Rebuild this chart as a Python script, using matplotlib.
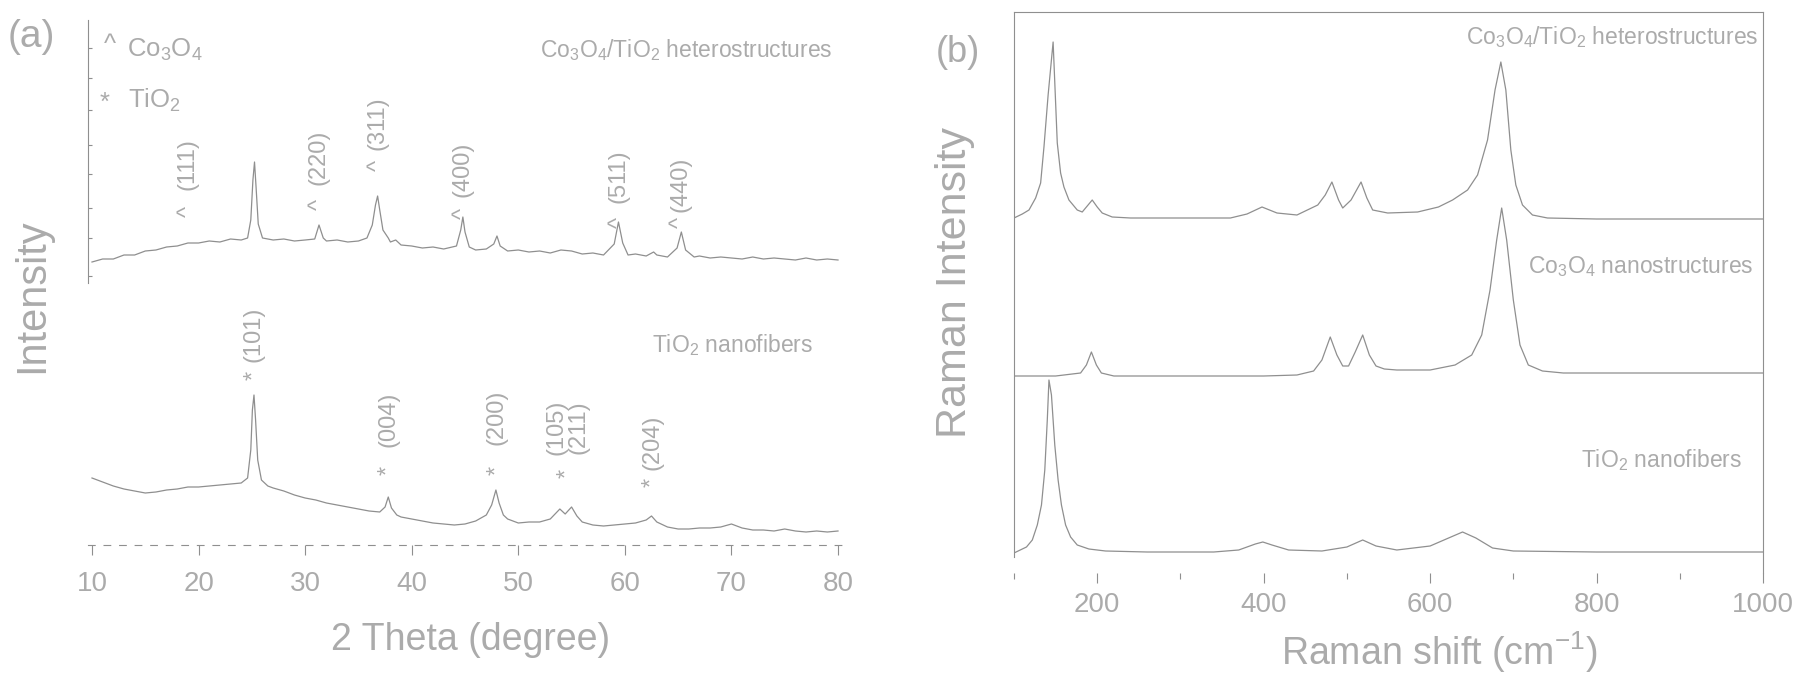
#!/usr/bin/env python3
"""
XRD (a) and Raman (b) patterns of Co3O4/TiO2 heterostructures
"""
import matplotlib
matplotlib.use('Agg')
import matplotlib.pyplot as plt

plt.rcParams['font.family'] = ['Liberation Sans', 'DejaVu Sans']
plt.rcParams['mathtext.fontset'] = 'custom'
plt.rcParams['mathtext.rm'] = 'Liberation Sans'
plt.rcParams['mathtext.default'] = 'regular'

# ---- XRD data (2 theta in degree, intensity in a.u., curves already offset)
xrd_hetero_2theta = [10, 11, 12, 13, 14, 15, 16, 17, 18, 19, 20, 21, 22, 23, 24,
                     24.6, 24.9, 25.1, 25.25, 25.4, 25.6, 26, 27, 28, 29, 30,
                     30.9, 31.3, 31.7, 32, 33, 34, 35, 35.8, 36.3, 36.6, 36.8,
                     37.0, 37.3, 37.8, 38, 38.5, 39, 40, 41, 42, 43, 44.2, 44.6,
                     44.8, 45.0, 45.4, 46, 47, 47.7, 48.0, 48.3, 49, 50, 51, 52,
                     53, 54, 55, 56, 57, 58, 59.0, 59.4, 59.8, 60.3, 61, 62, 62.7,
                     63, 64, 64.9, 65.3, 65.7, 66.5, 67, 68, 69, 70, 71, 72, 73,
                     74, 75, 76, 77, 78, 79, 80]
xrd_hetero = [283, 286, 286, 290, 290, 294, 295, 298, 299, 302, 302, 304, 303,
              306, 305, 307, 325, 365, 383, 357, 321, 307, 305, 306, 304, 305,
              306, 320, 307, 304, 305, 303, 304, 307, 320, 340, 349, 335, 315,
              307, 303, 305, 300, 299, 297, 298, 296, 299, 315, 328, 313, 298,
              295, 296, 301, 309, 299, 294, 295, 293, 294, 292, 295, 294, 291,
              292, 290, 301, 323, 302, 290, 291, 289, 293, 290, 288, 297, 313,
              295, 288, 289, 287, 288, 287, 286, 288, 286, 287, 286, 285, 287,
              285, 286, 285]

xrd_tio2_2theta = [10, 11, 12, 13, 14, 15, 16, 17, 18, 19, 20, 21, 22, 23, 24,
                   24.6, 24.9, 25.05, 25.2, 25.35, 25.55, 25.9, 26.5, 27, 28,
                   29, 30, 31, 32, 33, 34, 35, 36, 37, 37.5, 37.8, 38.1, 38.6,
                   39, 40, 41, 42, 43, 44, 45, 46, 47, 47.5, 47.9, 48.2, 48.6,
                   49, 50, 51, 52, 53, 53.9, 54.4, 55.0, 55.5, 56, 57, 58, 59,
                   60, 61, 62, 62.5, 63, 64, 65, 66, 67, 68, 69, 70, 71, 72, 73,
                   74, 75, 76, 77, 78, 79, 80]
xrd_tio2 = [67, 63, 59, 56, 54, 52, 53, 55, 56, 58, 58, 59, 60, 61, 62, 67, 95,
            135, 150, 125, 85, 65, 59, 57, 54, 50, 47, 45, 42, 40, 38, 36, 34,
            33, 38, 48, 37, 30, 28, 26, 24, 22, 21, 20, 21, 24, 30, 40, 55, 42,
            30, 26, 22, 23, 23, 26, 36, 31, 38, 29, 23, 20, 19, 20, 21, 22, 25,
            29, 23, 18, 16, 16, 17, 17, 18, 21, 17, 15, 15, 14, 16, 14, 13, 14,
            13, 14]

co3o4_hkl = ['(111)', '(220)', '(311)', '(400)', '(511)', '(440)']
co3o4_pos = [19.0, 31.3, 36.8, 44.8, 59.4, 65.2]
tio2_hkl = ['(101)', '(004)', '(200)', '(105)\n(211)', '(204)']
tio2_pos = [25.2, 37.8, 48.0, 54.6, 62.6]

# ---- Raman data (shift in cm-1, intensity in a.u., curves already offset)
raman_hetero_x = [100, 110, 118, 126, 132, 136, 141, 147, 152, 156, 160, 166,
                  176, 182, 188, 194, 200, 206, 218, 240, 300, 360, 380, 398,
                  416, 440, 465, 474, 482, 490, 495, 505, 517, 524, 531, 549,
                  585, 610, 627, 645, 657, 669, 678, 685, 691, 697, 703, 711,
                  723, 741, 800, 900, 1000]
raman_hetero = [355, 359, 363, 375, 390, 426, 478, 531, 430, 400, 386, 373, 363,
                361, 367, 373, 366, 360, 356, 355, 355, 355, 359, 366, 360, 358,
                368, 378, 391, 373, 365, 373, 391, 375, 363, 360, 361, 366, 373,
                383, 398, 433, 483, 511, 483, 423, 388, 368, 358, 355, 354, 354,
                354]

raman_co3o4_x = [100, 150, 180, 187, 193, 199, 205, 220, 300, 400, 440, 460,
                 470, 480, 488, 495, 502, 510, 519, 527, 535, 545, 560, 600,
                 630, 650, 662, 672, 680, 686, 692, 700, 708, 718, 735, 760,
                 850, 1000]
raman_co3o4 = [197, 197, 200, 208, 221, 208, 200, 197, 197, 197, 198, 202, 213,
               236, 218, 207, 207, 221, 238, 218, 207, 204, 203, 203, 208, 218,
               238, 283, 333, 365, 333, 273, 228, 208, 202, 200, 200, 200]

raman_tio2_x = [100, 115, 122, 128, 133, 137, 140, 142, 145, 149, 153, 157, 162,
                168, 176, 190, 210, 260, 340, 370, 390, 399, 410, 430, 470, 500,
                519, 535, 560, 600, 625, 639, 655, 675, 700, 800, 1000]
raman_tio2 = [20, 26, 33, 48, 68, 103, 153, 193, 178, 128, 93, 68, 48, 36, 28,
              24, 22, 21, 21, 23, 29, 31, 28, 23, 22, 26, 33, 27, 23, 27, 36, 41,
              35, 25, 22, 21, 21]

W, H = 1805, 687
LINE = '#8f8f8f'
TEXT = '#ababab'


def fx(px):
    return px / W


def fy(py):
    return 1 - py / H


fig = plt.figure(figsize=(W / 100, H / 100), dpi=100)

# ---------------- (a) XRD
ax1 = fig.add_axes([fx(88), fy(545), fx(842 - 88), (545 - 14) / H])
ax1.plot(xrd_hetero_2theta, xrd_hetero, color=LINE, lw=0.9)
ax1.plot(xrd_tio2_2theta, xrd_tio2, color=LINE, lw=0.9)
ax1.set_xlim(9.625, 80.375)
ax1.set_ylim(0, 531)
ax1.set_xticks(range(10, 81, 10))
ax1.set_yticks([269, 307, 337, 371, 400, 435, 467, 497])
ax1.tick_params(axis='x', direction='out', length=7, width=0.8, colors=LINE,
                labelcolor=TEXT, labelsize=20, pad=12)
ax1.tick_params(axis='y', direction='in', length=3, width=0.8, colors=LINE,
                labelleft=False)
for side in ['top', 'right']:
    ax1.spines[side].set_visible(False)
ax1.spines['left'].set_bounds(262, 525)
ax1.spines['left'].set_color(LINE)
ax1.spines['bottom'].set_color(LINE)
ax1.spines['bottom'].set_linestyle((0, (6, 8)))

top_lab_y = [355, 360, 395, 348, 342, 333]
top_sym_y = [334, 341, 380, 332, 323, 323]
for pos, hkl, ly, sy in zip(co3o4_pos, co3o4_hkl, top_lab_y, top_sym_y):
    ax1.text(pos, ly, hkl, rotation=90, ha='center', va='bottom',
             fontsize=17, color=TEXT)
    ax1.text(pos, sy, '^', rotation=90, ha='center', va='center',
             fontsize=17, color=TEXT)

bot_lab_y = [183, 98, 100, 90, 75]
bot_sym_y = [170, 75, 75, 72, 63]
for pos, hkl, ly, sy in zip(tio2_pos, tio2_hkl, bot_lab_y, bot_sym_y):
    ax1.text(pos, ly, hkl, rotation=90, ha='center', va='bottom',
             fontsize=17, color=TEXT, linespacing=1.0)
    ax1.text(pos, sy, '*', rotation=90, ha='center', va='center',
             fontsize=17, color=TEXT)

fig.text(fx(110), fy(45), '^', ha='center', va='center', fontsize=18.5, color=TEXT)
fig.text(fx(127), fy(50), 'Co$_3$O$_4$', ha='left', va='center',
         fontsize=18.5, color=TEXT)
fig.text(fx(105), fy(103), '*', ha='center', va='center', fontsize=18.5, color=TEXT)
fig.text(fx(128), fy(100), 'TiO$_2$', ha='left', va='center',
         fontsize=18.5, color=TEXT)
fig.text(fx(832), fy(50), 'Co$_3$O$_4$/TiO$_2$ heterostructures', ha='right',
         va='center', fontsize=16.5, color=TEXT)
fig.text(fx(813), fy(345), 'TiO$_2$ nanofibers', ha='right', va='center',
         fontsize=16.5, color=TEXT)
fig.text(fx(31), fy(37), '(a)', ha='center', va='center', fontsize=28, color=TEXT)
fig.text(fx(32), fy(296), 'Intensity', rotation=90, ha='center', va='center',
         fontsize=30, color=TEXT)
fig.text(fx(471), fy(640), '2 Theta (degree)', ha='center', va='center',
         fontsize=27, color=TEXT)

# ---------------- (b) Raman
ax2 = fig.add_axes([fx(1014), fy(573), fx(1763 - 1014), (573 - 12) / H])
ax2.plot(raman_hetero_x, raman_hetero, color=LINE, lw=0.9)
ax2.plot(raman_co3o4_x, raman_co3o4, color=LINE, lw=0.9)
ax2.plot(raman_tio2_x, raman_tio2, color=LINE, lw=0.9)
ax2.set_xlim(100, 1000)
ax2.set_ylim(0, 561)
ax2.set_xticks(range(200, 1001, 200))
ax2.set_xticks(range(100, 1000, 200), minor=True)
ax2.set_yticks([])
ax2.tick_params(axis='x', which='major', direction='out', length=7, width=0.8,
                colors=LINE, labelcolor=TEXT, labelsize=20, pad=7)
ax2.tick_params(axis='x', which='minor', direction='out', length=4, width=0.8,
                colors=LINE)
ax2.spines['bottom'].set_visible(False)
ax2.spines['left'].set_bounds(16, 561)
for side in ['top', 'right', 'left']:
    ax2.spines[side].set_color(LINE)

fig.text(fx(1758), fy(37), 'Co$_3$O$_4$/TiO$_2$ heterostructures', ha='right',
         va='center', fontsize=16.5, color=TEXT)
fig.text(fx(1753), fy(267), 'Co$_3$O$_4$ nanostructures', ha='right',
         va='center', fontsize=16.5, color=TEXT)
fig.text(fx(1742), fy(460), 'TiO$_2$ nanofibers', ha='right', va='center',
         fontsize=16.5, color=TEXT)
fig.text(fx(958), fy(52), '(b)', ha='center', va='center', fontsize=26, color=TEXT)
fig.text(fx(955), fy(283), 'Raman Intensity', rotation=90, ha='center',
         va='center', fontsize=31, color=TEXT)
fig.text(fx(1439), fy(652), 'Raman shift (cm$^{-1}$)', ha='center',
         va='center', fontsize=27, color=TEXT)

fig.savefig('out.png', dpi=100, facecolor='white')
